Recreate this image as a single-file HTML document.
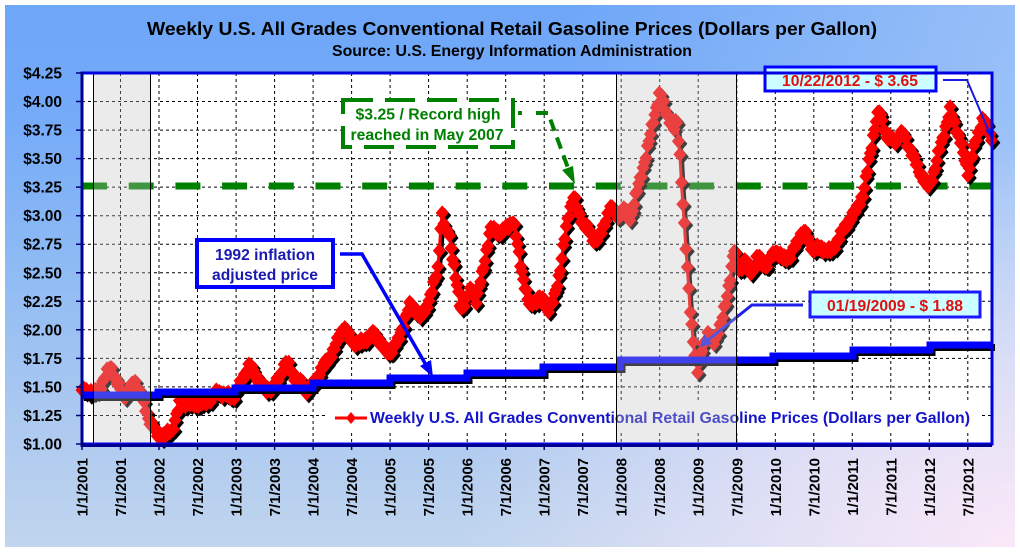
<!DOCTYPE html>
<html><head><meta charset="utf-8">
<style>
html,body{margin:0;padding:0;background:#fff;}
#wrap{position:relative;width:1020px;height:553px;overflow:hidden;background:#fff;}
#bg{position:absolute;left:5px;top:5px;width:1010px;height:542px;
background:
 radial-gradient(ellipse 55% 75% at 100% 100%, rgba(250,232,248,1) 0%, rgba(246,232,248,0.6) 45%, rgba(246,232,248,0) 100%),
 linear-gradient(to right, rgba(255,255,255,0) 55%, rgba(200,220,248,0.45) 100%),
 linear-gradient(to bottom, #6ea6f8 0%, #74aaf8 20%, #90bcf4 50%, #b0cbf0 80%, #c0d5ee 100%);}
svg{position:absolute;left:0;top:0;}
text{font-family:"Liberation Sans",Arial,sans-serif;}
</style></head>
<body><div id="wrap"><div id="bg"></div>
<svg width="1020" height="553" viewBox="0 0 1020 553" xmlns="http://www.w3.org/2000/svg">
<!-- titles -->
<text x="512" y="35" text-anchor="middle" font-size="18.5" font-weight="bold" fill="#000" textLength="730" lengthAdjust="spacingAndGlyphs">Weekly U.S. All Grades Conventional Retail Gasoline Prices  (Dollars per Gallon)</text>
<text x="512" y="56" text-anchor="middle" font-size="15.5" font-weight="bold" fill="#000" textLength="360" lengthAdjust="spacingAndGlyphs">Source: U.S. Energy Information Administration</text>

<!-- plot background -->
<rect x="82" y="73" width="910" height="371" fill="#fff"/>

<!-- gridlines -->
<g stroke="#000" stroke-width="1" stroke-dasharray="3,3" fill="none">
<path d="M82 415.5H992M82 386.9H992M82 358.4H992M82 329.8H992M82 301.3H992M82 272.8H992M82 244.2H992M82 215.7H992M82 187.1H992M82 158.6H992M82 130.1H992M82 101.5H992"/>
<path d="M120.5 73V444M159 73V444M197.5 73V444M236.1 73V444M274.6 73V444M313.1 73V444M351.6 73V444M390.1 73V444M428.6 73V444M467.2 73V444M505.7 73V444M544.2 73V444M582.7 73V444M621.2 73V444M659.7 73V444M698.2 73V444M736.8 73V444M775.3 73V444M813.8 73V444M852.3 73V444M890.8 73V444M929.3 73V444M967.8 73V444"/>
</g>

<!-- green $3.25 line -->
<line x1="82" y1="186" x2="992" y2="186" stroke="#008000" stroke-width="7" stroke-dasharray="25,21.7"/>

<!-- legend -->
<rect x="326" y="403" width="656" height="30" fill="#fff"/>
<line x1="335" y1="418" x2="367" y2="418" stroke="#ff0000" stroke-width="3"/>
<path d="M351 412 L356 418 L351 424 L346 418Z" fill="#ff0000"/>
<text x="370" y="423" font-size="16" font-weight="bold" fill="#1414c8" textLength="600" lengthAdjust="spacingAndGlyphs">Weekly U.S. All Grades Conventional Retail Gasoline Prices  (Dollars per Gallon)</text>

<!-- red series -->
<g id="red">
<g transform="translate(2.5,2.5)"><path id="rls" fill="none" stroke="#000" stroke-width="3" stroke-linejoin="round"/><path id="rds" fill="#000"/></g>
<path id="rl" fill="none" stroke="#ff0000" stroke-width="3" stroke-linejoin="round"/>
<path id="rd" fill="#ff0000"/>
</g>

<!-- blue inflation adjusted line -->
<path d="M82 395H158V392H235V388H313V383H390V378H467V373H543V367H620V360H773V356H853V350H930V345H993" fill="none" stroke="#000" stroke-width="7" transform="translate(2,2.5)"/>
<path d="M82 395H158V392H235V388H313V383H390V378H467V373H543V367H620V360H773V356H853V350H930V345H993" fill="none" stroke="#0000ff" stroke-width="7"/>

<!-- annotations: green -->
<rect x="343" y="100" width="170" height="47" fill="#fff" stroke="#008000" stroke-width="4" stroke-dasharray="30,12"/>
<text x="428" y="119.5" text-anchor="middle" font-size="16" font-weight="bold" fill="#008000" textLength="145" lengthAdjust="spacingAndGlyphs">$3.25 / Record high</text>
<text x="427" y="140" text-anchor="middle" font-size="16" font-weight="bold" fill="#008000" textLength="153" lengthAdjust="spacingAndGlyphs">reached in May 2007</text>
<rect x="518" y="111" width="4" height="4" fill="#008000"/>
<polyline points="536,113 548,113 568,168" fill="none" stroke="#008000" stroke-width="4" stroke-dasharray="12,7"/>
<path d="M575 184 L562 170 L573 166Z" fill="#008000"/>

<!-- annotations: 1992 inflation -->
<rect x="197" y="240" width="136" height="47" fill="#fff" stroke="#0000ff" stroke-width="4"/>
<text x="265" y="260" text-anchor="middle" font-size="16" font-weight="bold" fill="#1a1ab0" textLength="100" lengthAdjust="spacingAndGlyphs">1992 inflation</text>
<text x="265" y="280" text-anchor="middle" font-size="16" font-weight="bold" fill="#1a1ab0" textLength="106" lengthAdjust="spacingAndGlyphs">adjusted price</text>
<polyline points="340,254 362,254 426,365" fill="none" stroke="#0000ff" stroke-width="3.5"/>
<path d="M433 377 L420 366 L431 360Z" fill="#0000ff"/>

<!-- annotations: 01/19/2009 -->
<polyline points="803,305 752,305 708,340" fill="none" stroke="#2020e8" stroke-width="3"/>
<path d="M700 347 L704 334 L712 344Z" fill="#2020e8"/>
<rect x="810" y="292" width="170" height="25" fill="#ccffff" stroke="#1a1aff" stroke-width="3"/>
<text x="895" y="311" text-anchor="middle" font-size="16" font-weight="bold" fill="#e01010" textLength="136" lengthAdjust="spacingAndGlyphs">01/19/2009 - $ 1.88</text>

<!-- annotations: 10/22/2012 -->
<polyline points="943,80 967,80 990,134" fill="none" stroke="#1a1ae0" stroke-width="2"/>
<path d="M992 139 L985 130 L992 128Z" fill="#1a1ae0"/>
<rect x="765" y="67" width="171" height="24" fill="#ccffff" stroke="#0000ff" stroke-width="3"/>
<text x="850" y="86" text-anchor="middle" font-size="16" font-weight="bold" fill="#e01010" textLength="136" lengthAdjust="spacingAndGlyphs">10/22/2012 - $ 3.65</text>

<!-- recession shading overlays -->
<rect x="93" y="73" width="57" height="371" fill="rgba(194,194,194,0.33)"/>
<rect x="616" y="73" width="120" height="371" fill="rgba(194,194,194,0.33)"/>
<path d="M93.5 73V444M150.5 73V444M616.5 73V444M736.5 73V444" stroke="#000" stroke-width="1"/>

<!-- plot border -->
<rect x="82" y="73" width="910" height="371" fill="none" stroke="#0000e0" stroke-width="3"/>
<path d="M82 72V445.5H992" fill="none" stroke="#000090" stroke-width="3"/>

<!-- y ticks -->
<path d="M76 444H82M76 415.5H82M76 386.9H82M76 358.4H82M76 329.8H82M76 301.3H82M76 272.8H82M76 244.2H82M76 215.7H82M76 187.1H82M76 158.6H82M76 130.1H82M76 101.5H82M76 73H82" stroke="#000080" stroke-width="1.5"/>
<!-- x ticks -->
<path d="M82 444V450M120.5 444V450M159 444V450M197.5 444V450M236.1 444V450M274.6 444V450M313.1 444V450M351.6 444V450M390.1 444V450M428.6 444V450M467.2 444V450M505.7 444V450M544.2 444V450M582.7 444V450M621.2 444V450M659.7 444V450M698.2 444V450M736.8 444V450M775.3 444V450M813.8 444V450M852.3 444V450M890.8 444V450M929.3 444V450M967.8 444V450" stroke="#000080" stroke-width="1.5"/>

<!-- y labels -->
<g font-size="15.5" font-weight="bold" fill="#000" text-anchor="end">
<text x="62" y="449.5">$1.00</text>
<text x="62" y="421">$1.25</text>
<text x="62" y="392.4">$1.50</text>
<text x="62" y="363.9">$1.75</text>
<text x="62" y="335.3">$2.00</text>
<text x="62" y="306.8">$2.25</text>
<text x="62" y="278.3">$2.50</text>
<text x="62" y="249.7">$2.75</text>
<text x="62" y="221.2">$3.00</text>
<text x="62" y="192.6">$3.25</text>
<text x="62" y="164.1">$3.50</text>
<text x="62" y="135.6">$3.75</text>
<text x="62" y="107">$4.00</text>
<text x="62" y="78.5">$4.25</text>
</g>

<!-- x labels -->
<g font-size="15" font-weight="bold" fill="#000" text-anchor="end">
<text transform="translate(87.5,458) rotate(-90)">1/1/2001</text>
<text transform="translate(126,458) rotate(-90)">7/1/2001</text>
<text transform="translate(164.5,458) rotate(-90)">1/1/2002</text>
<text transform="translate(203,458) rotate(-90)">7/1/2002</text>
<text transform="translate(241.6,458) rotate(-90)">1/1/2003</text>
<text transform="translate(280.1,458) rotate(-90)">7/1/2003</text>
<text transform="translate(318.6,458) rotate(-90)">1/1/2004</text>
<text transform="translate(357.1,458) rotate(-90)">7/1/2004</text>
<text transform="translate(395.6,458) rotate(-90)">1/1/2005</text>
<text transform="translate(434.1,458) rotate(-90)">7/1/2005</text>
<text transform="translate(472.7,458) rotate(-90)">1/1/2006</text>
<text transform="translate(511.2,458) rotate(-90)">7/1/2006</text>
<text transform="translate(549.7,458) rotate(-90)">1/1/2007</text>
<text transform="translate(588.2,458) rotate(-90)">7/1/2007</text>
<text transform="translate(626.7,458) rotate(-90)">1/1/2008</text>
<text transform="translate(665.2,458) rotate(-90)">7/1/2008</text>
<text transform="translate(703.7,458) rotate(-90)">1/1/2009</text>
<text transform="translate(742.3,458) rotate(-90)">7/1/2009</text>
<text transform="translate(780.8,458) rotate(-90)">1/1/2010</text>
<text transform="translate(819.3,458) rotate(-90)">7/1/2010</text>
<text transform="translate(857.8,458) rotate(-90)">1/1/2011</text>
<text transform="translate(896.3,458) rotate(-90)">7/1/2011</text>
<text transform="translate(934.8,458) rotate(-90)">1/1/2012</text>
<text transform="translate(973.3,458) rotate(-90)">7/1/2012</text>
</g>
</svg>
</div>
<script>
(function(){
var K=[[2001.0,1.46],[2001.08,1.47],[2001.17,1.44],[2001.25,1.52],[2001.37,1.68],[2001.45,1.55],[2001.53,1.42],[2001.6,1.45],[2001.68,1.55],[2001.75,1.45],[2001.85,1.25],[2001.97,1.08],[2002.1,1.08],[2002.17,1.12],[2002.27,1.36],[2002.45,1.35],[2002.6,1.36],[2002.78,1.46],[2002.95,1.40],[2003.05,1.52],[2003.17,1.69],[2003.3,1.55],[2003.4,1.47],[2003.5,1.50],[2003.65,1.72],[2003.75,1.60],[2003.92,1.47],[2004.0,1.52],[2004.15,1.70],[2004.27,1.82],[2004.39,2.03],[2004.5,1.90],[2004.6,1.88],[2004.8,1.97],[2004.9,1.85],[2005.0,1.80],[2005.1,1.90],[2005.27,2.24],[2005.4,2.10],[2005.52,2.28],[2005.62,2.55],[2005.67,3.02],[2005.72,2.85],[2005.76,2.88],[2005.85,2.45],[2005.92,2.18],[2006.0,2.28],[2006.05,2.35],[2006.12,2.26],[2006.2,2.5],[2006.3,2.88],[2006.45,2.85],[2006.6,2.96],[2006.7,2.55],[2006.8,2.22],[2006.95,2.28],[2007.05,2.18],[2007.12,2.25],[2007.2,2.5],[2007.3,2.95],[2007.38,3.18],[2007.45,3.0],[2007.55,2.9],[2007.65,2.78],[2007.75,2.85],[2007.85,3.08],[2007.95,3.0],[2008.05,3.05],[2008.12,2.98],[2008.2,3.2],[2008.33,3.55],[2008.42,3.85],[2008.5,4.07],[2008.58,3.92],[2008.68,3.75],[2008.72,3.85],[2008.76,3.55],[2008.8,3.1],[2008.85,2.6],[2008.9,2.15],[2008.95,1.8],[2008.99,1.62],[2009.05,1.85],[2009.12,1.95],[2009.2,1.9],[2009.3,2.05],[2009.4,2.4],[2009.47,2.70],[2009.54,2.52],[2009.62,2.6],[2009.7,2.5],[2009.78,2.65],[2009.88,2.55],[2010.0,2.7],[2010.1,2.62],[2010.2,2.65],[2010.36,2.87],[2010.5,2.7],[2010.6,2.72],[2010.72,2.68],[2010.82,2.8],[2010.95,2.95],[2011.05,3.05],[2011.15,3.2],[2011.22,3.5],[2011.3,3.8],[2011.35,3.92],[2011.45,3.68],[2011.55,3.66],[2011.66,3.72],[2011.8,3.5],[2011.97,3.25],[2012.05,3.35],[2012.14,3.6],[2012.27,3.92],[2012.4,3.66],[2012.5,3.38],[2012.58,3.6],[2012.7,3.86],[2012.812,3.66]];
function f(t){
  for(var i=0;i<K.length-1;i++){
    if(t>=K[i][0]&&t<=K[i+1][0]){var a=(t-K[i][0])/(K[i+1][0]-K[i][0]);return K[i][1]+a*(K[i+1][1]-K[i][1]);}
  }
  return K[K.length-1][1];
}
var line="",dia="",hw=6.5,hh=7.5,i=0;
for(var t=2001.0;t<=2012.813;t+=7/365.25){
  var p=f(t)+0.022*Math.sin(i*2.3)+0.015*Math.sin(i*0.77+1);
  var x=82+(t-2001)*77.03, y=444-(p-1)*114.15;
  line+=(i?"L":"M")+x.toFixed(1)+" "+y.toFixed(1);
  dia+="M"+x.toFixed(1)+" "+(y-hh).toFixed(1)+"L"+(x+hw).toFixed(1)+" "+y.toFixed(1)+"L"+x.toFixed(1)+" "+(y+hh).toFixed(1)+"L"+(x-hw).toFixed(1)+" "+y.toFixed(1)+"Z";
  i++;
}
document.getElementById("rl").setAttribute("d",line);
document.getElementById("rls").setAttribute("d",line);
document.getElementById("rd").setAttribute("d",dia);
document.getElementById("rds").setAttribute("d",dia);
})();
</script>
</body></html>
